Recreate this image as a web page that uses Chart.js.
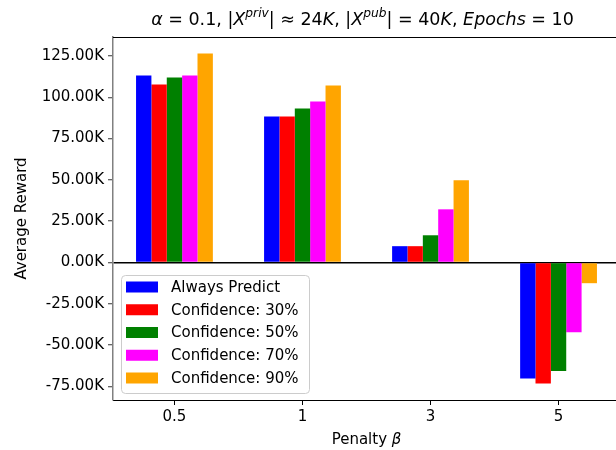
<!DOCTYPE html>
<html>
<head>
<meta charset="utf-8">
<script src="https://cdn.jsdelivr.net/npm/chart.js@4"></script>
<style>
  html, body { margin: 0; padding: 0; background: #fff; overflow: hidden; }
  #wrap { width: 624px; height: 450px; }
</style>
</head>
<body>
<div id="wrap"><canvas id="chart" width="624" height="450"></canvas></div>
<script>
// ── DATA ─────────────────────────────────────────────
const categories = ['0.5', '1', '3', '5'];
const alwaysPredict = [113200, 88400, 9900, -70200];
const confidence30 = [107700, 88400, 9900, -73200];
const confidence50 = [112000, 93200, 16500, -65700];
const confidence70 = [113200, 97500, 32200, -42200];
const confidence90 = [126500, 107100, 49800, -12500];
const yTicks = [-75000, -50000, -25000, 0, 25000, 50000, 75000, 100000, 125000];

const seriesLabels = ['Always Predict', 'Confidence: 30%', 'Confidence: 50%', 'Confidence: 70%', 'Confidence: 90%'];
const seriesValues = [alwaysPredict, confidence30, confidence50, confidence70, confidence90];
const seriesColors = ['#0000ff', '#ff0000', '#008000', '#ff00ff', '#ffa500'];

// matplotlib-style 5% margins
const allVals = seriesValues.flat();
const vMin = Math.min(...allVals), vMax = Math.max(...allVals);
const yPad = (vMax - vMin) * 0.05;
const xPad = (categories.length - 1 + 0.6) * 0.05;

const FONT = '"DejaVu Sans", sans-serif';

const titleSegs = [
  { t: 'α', i: true }, { t: ' = 0.1, |' }, { t: 'X', i: true }, { t: 'priv', i: true, sup: true },
  { t: '| ≈ 24' }, { t: 'K', i: true }, { t: ', |' }, { t: 'X', i: true }, { t: 'pub', i: true, sup: true },
  { t: '| = 40' }, { t: 'K', i: true }, { t: ', ' }, { t: 'Epochs', i: true }, { t: ' = 10' },
];
const xTitleSegs = [{ t: 'Penalty ' }, { t: 'β', i: true }];

function drawSegs(ctx, segs, cx, cy, size) {
  const fontFor = s => `${s.i ? 'italic ' : ''}${s.sup ? size * 0.7 : size}px ${FONT}`;
  let total = 0;
  segs.forEach(s => { ctx.font = fontFor(s); total += ctx.measureText(s.t).width; });
  let x = cx - total / 2;
  ctx.textBaseline = 'alphabetic';
  ctx.textAlign = 'left';
  ctx.fillStyle = '#000';
  segs.forEach(s => {
    ctx.font = fontFor(s);
    ctx.fillText(s.t, x, cy + size * 0.36 - (s.sup ? size * 0.45 : 0));
    x += ctx.measureText(s.t).width;
  });
}

const decorPlugin = {
  id: 'decor',
  afterDraw(chart) {
    const { ctx, chartArea: a } = chart;
    ctx.save();
    // top spine
    ctx.strokeStyle = '#000';
    ctx.lineWidth = 1;
    ctx.beginPath();
    ctx.moveTo(a.left, a.top + 0.5);
    ctx.lineTo(a.right, a.top + 0.5);
    ctx.stroke();

    drawSegs(ctx, titleSegs, (a.left + a.right) / 2 - 4, 19, 17.5);
    drawSegs(ctx, xTitleSegs, (a.left + a.right) / 2, 439, 15);

    // legend, lower left
    const bx = a.left + 8, by = a.bottom - 125, bw = 188, bh = 118;
    ctx.fillStyle = 'rgba(255,255,255,0.8)';
    ctx.strokeStyle = '#cccccc';
    ctx.beginPath();
    ctx.roundRect(bx + 0.5, by + 0.5, bw, bh, 4);
    ctx.fill();
    ctx.stroke();
    ctx.font = `15px ${FONT}`;
    ctx.textBaseline = 'middle';
    chart.data.datasets.forEach((ds, i) => {
      const cy = by + 12 + i * 22.75;
      ctx.fillStyle = ds.backgroundColor;
      ctx.fillRect(bx + 5, cy - 5.5, 32, 11);
      ctx.fillStyle = '#000';
      ctx.fillText(ds.label, bx + 50, cy + 1);
    });
    ctx.restore();
  }
};

new Chart(document.getElementById('chart'), {
  type: 'bar',
  data: {
    datasets: seriesLabels.map((label, s) => ({
      label,
      data: seriesValues[s].map((v, i) => ({ x: i, y: v })),
      backgroundColor: seriesColors[s],
      borderWidth: 0,
      categoryPercentage: 0.6,
      barPercentage: 1.0,
    }))
  },
  options: {
    responsive: false,
    animation: false,
    layout: { padding: { top: 37, right: 4, left: 0, bottom: 0 } },
    plugins: { legend: { display: false }, tooltip: { enabled: false } },
    scales: {
      x: {
        type: 'linear',
        offset: false,
        min: -0.3 - xPad,
        max: categories.length - 1 + 0.3 + xPad,
        afterBuildTicks: axis => { axis.ticks = categories.map((c, i) => ({ value: i })); },
        afterFit: axis => { axis.height = 50; },
        ticks: {
          color: '#000', font: { family: FONT, size: 15 }, padding: 3,
          callback: v => categories[v],
        },
        grid: { offset: false, drawOnChartArea: false, tickLength: 5, tickColor: '#000' },
        border: { color: '#000', width: 1 },
      },
      y: {
        min: vMin - yPad,
        max: vMax + yPad,
        afterBuildTicks: axis => { axis.ticks = yTicks.map(v => ({ value: v })); },
        afterFit: axis => { axis.width = 113; },
        ticks: {
          color: '#000', font: { family: FONT, size: 15 }, padding: 4,
          callback: v => (v / 1000).toFixed(2) + 'K',
        },
        grid: {
          color: c => (c.tick && c.tick.value === 0 ? '#000' : 'rgba(0,0,0,0)'),
          lineWidth: 1.5,
          tickLength: 5,
          tickColor: '#333',
          tickWidth: 1,
        },
        border: { color: '#808080', width: 1.5 },
        title: {
          display: true, text: 'Average Reward', color: '#000',
          font: { family: FONT, size: 15 }, padding: { top: 13, bottom: 0 },
        },
      }
    }
  },
  plugins: [decorPlugin]
});
</script>
</body>
</html>
